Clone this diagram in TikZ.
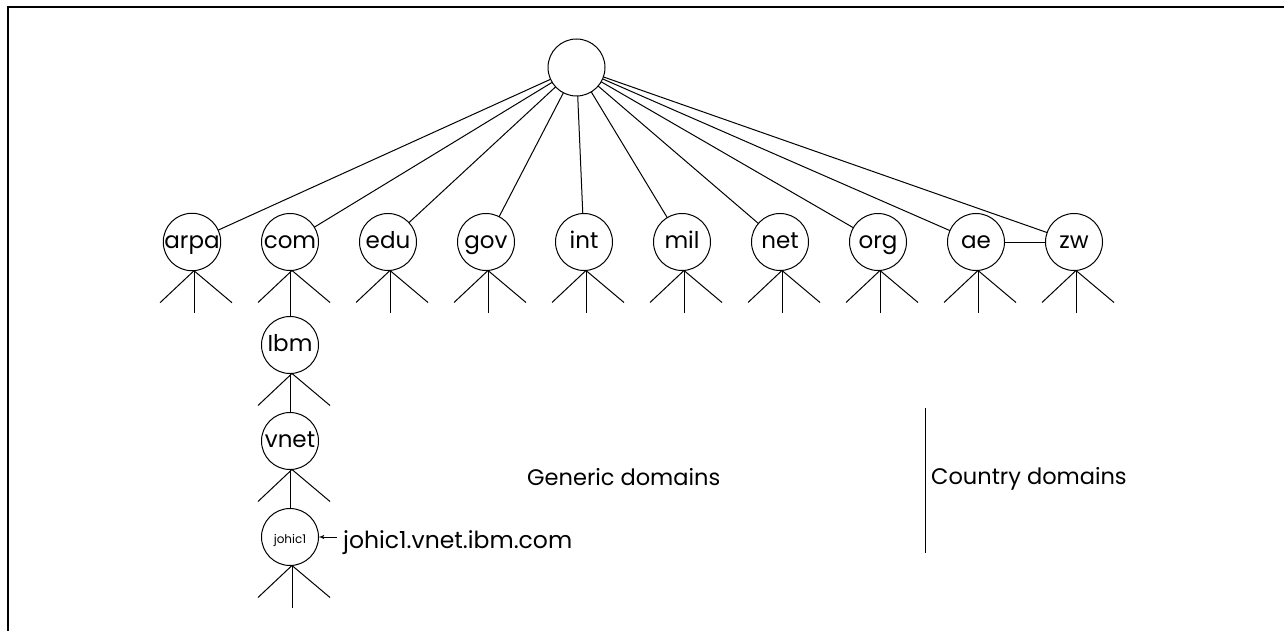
\documentclass[tikz,border=0pt]{standalone}
\usepackage{fontspec}
\setmainfont{Poppins}
\usepackage{tkz-graph}
\usetikzlibrary{arrows}
\DeclareRobustCommand\hostfont{\fontsize{12}{14}\selectfont}

\begin{document}
\begin{tikzpicture}[>=latex',x=1pt,y=-1pt]
  \useasboundingbox (0,0) rectangle (1284,631);
  \GraphInit[vstyle=Normal]
  \SetUpEdge[lw    = 1pt,
             color = black]
  \tikzset{VertexStyle/.style = {draw,circle,line width=1pt,minimum size=57pt,
                                 inner sep=0pt,text height=14pt,text depth=2pt,
                                 font=\fontsize{23}{26}\selectfont}}
  \tikzset{EdgeStyle/.style = {line width=1pt}}
  \tikzset{domlabel/.style = {inner sep=0pt,font=\fontsize{22.5}{27}\selectfont}}
  % frame
  \draw[line width=2pt] (7.5,631) -- (7.5,7.5) -- (1284,7.5);
  \Vertex[x=576.5,y=67.5,NoLabel]{root}
  \Vertex[x=192,y=242,L=arpa]{arpa}
  \Vertex[x=290,y=242,L=com]{com}
  \Vertex[x=388,y=242,L=edu]{edu}
  \Vertex[x=486,y=242,L=gov]{gov}
  \Vertex[x=584,y=242,L=int]{int}
  \Vertex[x=682,y=242,L=mil]{mil}
  \Vertex[x=780,y=242,L=net]{net}
  \Vertex[x=878,y=242,L=org]{org}
  \Vertex[x=976,y=242,L=ae]{ae}
  \Vertex[x=1074,y=242,L=zw]{zw}
  \Vertex[x=290,y=345,L=Ibm]{ibm}
  \Vertex[x=290,y=441,L=vnet]{vnet}
  \Vertex[x=290,y=537,L={\hostfont johic1}]{johic}
  \Edge(root)(arpa)
  \Edge(root)(com)
  \Edge(root)(edu)
  \Edge(root)(gov)
  \Edge(root)(int)
  \Edge(root)(mil)
  \Edge(root)(net)
  \Edge(root)(org)
  \Edge(root)(ae)
  \Edge(root)(zw)
  \Edge(ae)(zw)
  \Edge(com)(ibm)
  \Edge(ibm)(vnet)
  \Edge(vnet)(johic)
  % subtrees
  \foreach \v in {arpa,com,edu,gov,int,mil,net,org,ae,zw,ibm,vnet,johic}
    \draw[line width=1pt] ([xshift=2pt]\v.south) -- +(-34,32)
                          ([xshift=2pt]\v.south) -- +(38,32);
  \foreach \v in {arpa,edu,gov,int,mil,net,org,ae,zw,johic}
    \draw[line width=1pt] ([xshift=2pt]\v.south) -- +(0,42);
  % labels
  \node[domlabel,anchor=base west] (generic) at (527,485) {Generic domains};
  \node[domlabel,anchor=base west] (country) at (931,484) {Country domains};
  \coordinate (septop) at (925.5,408);
  \coordinate (sepbot) at (925.5,553);
  \draw[line width=1pt] (septop) -- (sepbot);
  \node[domlabel,anchor=base west,inner xsep=6pt,font=\fontsize{23.5}{28}\selectfont]
    (fqdn) at (337,548) {johic1.vnet.ibm.com};
  \draw[->,line width=1pt] (fqdn.west |- johic) -- (johic);
\end{tikzpicture}
\end{document}
